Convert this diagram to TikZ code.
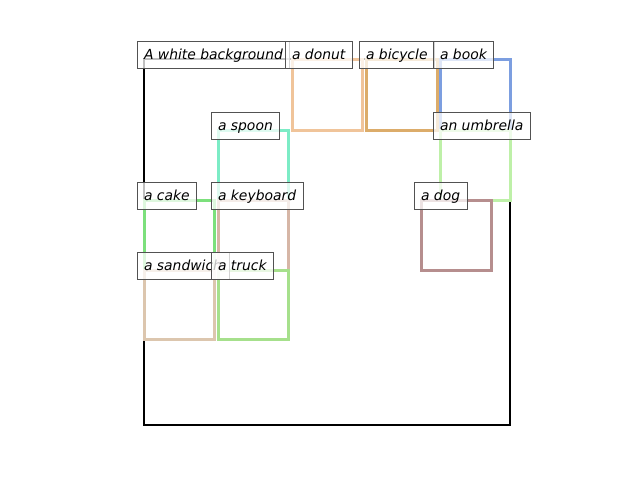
\documentclass[tikz,border=0pt]{standalone}
\usepackage{fontspec}
\setmainfont{DejaVu Sans}
\begin{document}
\begin{tikzpicture}[x=1pt,y=-1pt,
  frame/.style={draw=black,line width=2.6pt},
  bbox/.style={line width=3pt},
  tag/.style={draw=black!68,line width=1pt,fill=white,fill opacity=0.75,text opacity=1,
    anchor=base west,inner xsep=7pt,inner ysep=0pt,outer sep=0pt,
    text height=18pt,text depth=9pt,
    font=\fontsize{13.9}{16}\selectfont\itshape}]
\definecolor{cdonut}{RGB}{240,196,154}
\definecolor{cbicycle}{RGB}{220,172,106}
\definecolor{cbook}{RGB}{124,158,224}
\definecolor{cumbrella}{RGB}{190,240,168}
\definecolor{cspoon}{RGB}{124,236,198}
\definecolor{ccake}{RGB}{124,224,124}
\definecolor{ckeyboard}{RGB}{214,182,166}
\definecolor{cdog}{RGB}{182,142,142}
\definecolor{csandwich}{RGB}{220,198,174}
\definecolor{ctruck}{RGB}{166,224,140}
\useasboundingbox (0,0) rectangle (640,480);
% image frame
\draw[frame] (144,59) rectangle (510,425);
% object boxes
\draw[bbox,cdonut]    (292,59)  rectangle (362,130);
\draw[bbox,cbicycle]  (366,59)  rectangle (437,130);
\draw[bbox,cbook]     (440,59)  rectangle (510,130);
\draw[bbox,cumbrella] (440,130) rectangle (510,200);
\draw[bbox,cspoon]    (218,130) rectangle (288,200);
\draw[bbox,ccake]     (144,200) rectangle (214,270);
\draw[bbox,ckeyboard] (218,200) rectangle (288,270);
\draw[bbox,cdog]      (421,200) rectangle (491,270);
\draw[bbox,csandwich] (144,270) rectangle (214,339);
\draw[bbox,ctruck]    (218,270) rectangle (288,339);
% captions
\node[tag] (lbg)  at (137,59)  {A white background};
\node[tag] (ldon) at (285,59)  {a donut};
\node[tag] (lbic) at (359,59)  {a bicycle};
\node[tag] (lbok) at (433,59)  {a book};
\node[tag] (lspn) at (211,130) {a spoon};
\node[tag] (lumb) at (433,130) {an umbrella};
\node[tag] (lcak) at (137,200) {a cake};
\node[tag] (lkey) at (211,200) {a keyboard};
\node[tag] (ldog) at (414,200) {a dog};
\node[tag] (lsan) at (137,270) {a sandwich};
\node[tag] (ltrk) at (211,270) {a truck};
\end{tikzpicture}
\end{document}
